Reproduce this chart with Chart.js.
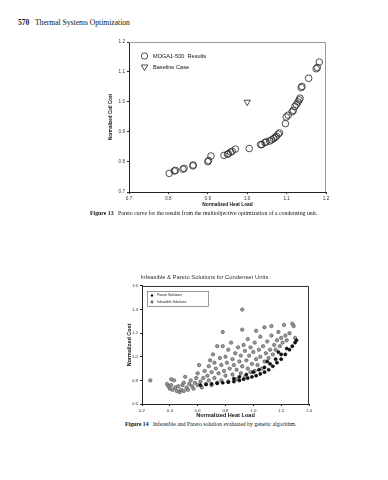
<!DOCTYPE html>
<html>
<head>
<meta charset="utf-8">
<script src="https://cdn.jsdelivr.net/npm/chart.js@4.4.0/dist/chart.umd.min.js"></script>
<style>
  body { margin: 0; width: 388px; height: 480px; background: #fff; position: relative; overflow: hidden; font-family: "Liberation Serif", serif; color: #111; }
  .txt { position: absolute; white-space: nowrap; line-height: 1; }
  canvas { position: absolute; }
</style>
</head>
<body>
<div class="txt" style="left:18px;top:19px;font-size:7.6px"><b>570</b>&nbsp;&nbsp; Thermal Systems Optimization</div>
<canvas id="paretoChart" width="245" height="178" style="left:90px;top:34px;width:245px;height:178px"></canvas>
<div class="txt" style="left:90px;top:211px;font-size:5.8px"><b>Figure 13</b>&nbsp;&nbsp; Pareto curve for the results from the multiobjective optimization of a condensing unit.</div>
<canvas id="solutionsChart" width="230" height="152" style="left:100px;top:268px;width:230px;height:152px"></canvas>
<div class="txt" style="left:125px;top:422px;font-size:5.8px"><b>Figure 14</b>&nbsp;&nbsp; Infeasible and Pareto solution evaluated by genetic algorithm.</div>

<script>
// Figure 13 - ket qua MOGA1-500 (heat load, coil cost)
const mogaPoints = [
  [0.802, 0.762], [0.815, 0.770], [0.818, 0.772], [0.837, 0.776], [0.840, 0.779],
  [0.862, 0.787], [0.863, 0.790], [0.900, 0.801], [0.902, 0.805], [0.908, 0.820],
  [0.941, 0.822], [0.950, 0.826], [0.952, 0.828], [0.958, 0.833], [0.962, 0.836],
  [0.970, 0.843], [1.005, 0.845], [1.034, 0.858], [1.037, 0.858], [1.045, 0.865],
  [1.048, 0.867], [1.057, 0.870], [1.062, 0.874], [1.067, 0.878], [1.071, 0.882],
  [1.074, 0.886], [1.079, 0.893], [1.082, 0.897], [1.097, 0.928], [1.099, 0.950],
  [1.104, 0.956], [1.114, 0.967], [1.117, 0.972], [1.121, 0.985], [1.125, 0.992],
  [1.129, 1.000], [1.132, 1.007], [1.134, 1.013], [1.137, 1.048], [1.139, 1.052],
  [1.156, 1.079], [1.175, 1.111], [1.178, 1.115], [1.183, 1.133]
];
const baselinePoint = [[1.0, 1.0]];
const topHeatTicks = [0.7, 0.8, 0.9, 1.0, 1.1, 1.2];
const topCostTicks = [0.7, 0.8, 0.9, 1.0, 1.1, 1.2];

// Figure 14 - nghiem Pareto va nghiem khong kha thi
const paretoPoints = [
  [0.62, 0.760], [0.66, 0.765], [0.70, 0.770], [0.74, 0.775], [0.78, 0.780],
  [0.82, 0.785], [0.86, 0.790], [0.90, 0.800], [0.93, 0.810], [0.96, 0.820],
  [0.99, 0.830], [1.02, 0.840], [1.05, 0.855], [1.08, 0.870], [1.11, 0.890],
  [1.14, 0.920], [1.17, 0.950], [1.20, 0.980], [1.23, 1.020], [1.26, 1.060],
  [1.28, 1.090], [1.30, 1.120], [1.31, 1.140], [1.00, 0.870], [1.04, 0.890],
  [1.08, 0.910], [1.12, 0.940], [1.16, 0.980], [1.20, 1.020], [1.24, 1.070],
  [0.95, 0.850], [0.90, 0.830], [0.86, 0.815], [1.10, 0.960], [1.18, 1.040]
];
const infeasiblePoints = [
  [0.26, 0.80], [0.38, 0.77], [0.39, 0.75], [0.40, 0.73], [0.41, 0.76], [0.41, 0.81],
  [0.43, 0.80], [0.42, 0.72], [0.44, 0.74], [0.45, 0.71], [0.46, 0.75], [0.47, 0.70],
  [0.48, 0.72], [0.49, 0.76], [0.50, 0.71], [0.50, 0.78], [0.51, 0.83], [0.52, 0.74],
  [0.53, 0.72], [0.54, 0.77], [0.55, 0.80], [0.56, 0.75], [0.57, 0.73], [0.58, 0.78],
  [0.59, 0.82], [0.60, 0.76], [0.60, 0.86], [0.61, 0.93], [0.62, 0.79], [0.63, 0.74],
  [0.64, 0.82], [0.65, 0.88], [0.66, 0.77], [0.67, 0.84], [0.68, 0.80], [0.68, 0.92],
  [0.69, 0.97], [0.70, 0.76], [0.70, 0.87], [0.71, 1.02], [0.72, 0.82], [0.72, 0.95],
  [0.73, 0.90], [0.74, 0.78], [0.74, 1.09], [0.75, 0.86], [0.76, 0.99], [0.77, 0.80],
  [0.77, 0.93], [0.78, 1.21], [0.78, 1.09], [0.79, 0.88], [0.80, 0.84], [0.80, 1.00],
  [0.81, 0.95], [0.82, 0.79], [0.82, 1.06], [0.83, 0.90], [0.84, 1.12], [0.85, 0.85],
  [0.85, 0.98], [0.86, 0.93], [0.87, 1.03], [0.88, 0.81], [0.88, 0.89], [0.89, 1.08],
  [0.90, 0.96], [0.91, 0.86], [0.91, 1.01], [0.92, 1.40], [0.92, 1.23], [0.92, 0.92],
  [0.93, 1.10], [0.94, 0.83], [0.94, 1.05], [0.95, 0.97], [0.96, 0.90], [0.96, 1.15],
  [0.97, 1.01], [0.98, 0.87], [0.98, 1.08], [0.99, 0.94], [1.00, 1.04], [1.01, 0.88],
  [1.01, 1.12], [1.02, 0.98], [1.02, 1.22], [1.03, 0.93], [1.04, 1.06], [1.05, 1.00],
  [1.05, 1.17], [1.06, 0.90], [1.07, 1.09], [1.08, 0.96], [1.08, 1.25], [1.09, 1.03],
  [1.10, 1.13], [1.11, 0.99], [1.12, 1.06], [1.13, 1.26], [1.13, 1.18], [1.14, 1.02],
  [1.15, 1.10], [1.16, 1.06], [1.17, 1.14], [1.18, 1.21], [1.19, 1.09], [1.20, 1.16],
  [1.21, 1.12], [1.22, 1.27], [1.23, 1.18], [1.24, 1.14], [1.26, 1.20], [1.28, 1.28],
  [1.29, 1.26], [1.30, 1.16]
];
const botHeatTicks = [0.2, 0.4, 0.6, 0.8, 1.0, 1.2, 1.4];
const botCostTicks = [0.6, 0.8, 1.0, 1.2, 1.4, 1.6];

const sans = "'Liberation Sans', Arial, sans-serif";
const toXY = arr => arr.map(p => ({ x: p[0], y: p[1] }));

// ve khung va chu giai (legend) ben trong vung ve
function framePlugin(topRightColor, legend) {
  return {
    id: "frame",
    afterDraw(chart) {
      const { ctx, chartArea: a } = chart;
      ctx.save();
      ctx.strokeStyle = topRightColor;
      ctx.lineWidth = 1;
      ctx.beginPath();
      ctx.moveTo(a.left, a.top + 0.5);
      ctx.lineTo(a.right - 0.5, a.top + 0.5);
      ctx.lineTo(a.right - 0.5, a.bottom);
      ctx.stroke();
      legend(ctx, a);
      ctx.restore();
    },
  };
}

function axisScale(ticksArr, fontSize, titleText, titleSize, titlePad, fitSize, horizontal) {
  return {
    type: "linear",
    min: ticksArr[0],
    max: ticksArr[ticksArr.length - 1],
    afterBuildTicks: s => { s.ticks = ticksArr.map(v => ({ value: v })); },
    afterFit: s => { if (horizontal) s.height = fitSize; else s.width = fitSize; },
    ticks: {
      callback: v => v.toFixed(1),
      font: { family: sans, size: fontSize },
      color: "#333",
      padding: 2,
    },
    grid: { drawOnChartArea: false, tickLength: 2, color: "#222" },
    border: { color: "#222", width: 1 },
    title: {
      display: true,
      text: titleText,
      color: "#111",
      font: { family: sans, size: titleSize, weight: "bold" },
      padding: titlePad,
    },
  };
}

// Bieu do 1: duong cong Pareto
function initParetoChart() {
  const ctx = document.getElementById("paretoChart").getContext("2d");
  new Chart(ctx, {
    type: "scatter",
    data: {
      datasets: [
        {
          label: "MOGA1-500 Results",
          data: toXY(mogaPoints),
          pointStyle: "circle",
          pointRadius: 3.3,
          borderWidth: 0.8,
          borderColor: "#222",
          backgroundColor: "rgba(255,255,255,0)",
        },
        {
          label: "Baseline Case",
          data: toXY(baselinePoint),
          pointStyle: "triangle",
          rotation: 180,
          pointRadius: 3.6,
          borderWidth: 0.8,
          borderColor: "#222",
          backgroundColor: "rgba(255,255,255,0)",
        },
      ],
    },
    options: {
      responsive: false,
      animation: false,
      events: [],
      layout: { padding: { top: 8, right: 9, left: 0, bottom: 0 } },
      plugins: { legend: { display: false }, tooltip: { enabled: false } },
      scales: {
        x: axisScale(topHeatTicks, 4.6, "Normalized Heat Load", 4.8, { top: 0, bottom: 4 }, 20, true),
        y: axisScale(topCostTicks, 4.6, "Normalized Coil Cost", 4.6, { top: 18, bottom: 0 }, 39, false),
      },
    },
    plugins: [
      framePlugin("#9a9a9a", (c, a) => {
        c.strokeStyle = "#222";
        c.lineWidth = 0.8;
        const lx = a.left + 15.5;
        c.beginPath();
        c.arc(lx, a.top + 14, 3.2, 0, Math.PI * 2);
        c.stroke();
        c.beginPath();
        c.moveTo(lx - 3.3, a.top + 23);
        c.lineTo(lx + 3.3, a.top + 23);
        c.lineTo(lx, a.top + 28.5);
        c.closePath();
        c.stroke();
        c.fillStyle = "#111";
        c.font = "5.6px " + sans;
        c.textBaseline = "middle";
        c.fillText("MOGA1-500  Results", a.left + 24, a.top + 14);
        c.fillText("Baseline Case", a.left + 24, a.top + 25);
      }),
    ],
  });
}

// Bieu do 2: nghiem khong kha thi va nghiem Pareto
function initSolutionsChart() {
  const ctx = document.getElementById("solutionsChart").getContext("2d");
  new Chart(ctx, {
    type: "scatter",
    data: {
      datasets: [
        {
          label: "Pareto Solutions",
          data: toXY(paretoPoints),
          pointRadius: 1.6,
          borderWidth: 0.5,
          borderColor: "#000",
          backgroundColor: "#111",
        },
        {
          label: "Infeasible Solutions",
          data: toXY(infeasiblePoints),
          pointRadius: 1.7,
          borderWidth: 0.6,
          borderColor: "#444",
          backgroundColor: "#9c9c9c",
        },
      ],
    },
    options: {
      responsive: false,
      animation: false,
      events: [],
      layout: { padding: { top: 0, right: 21, left: 0, bottom: 0 } },
      plugins: {
        legend: { display: false },
        tooltip: { enabled: false },
        title: {
          display: true,
          text: "Infeasible & Pareto Solutions for Condenser Units",
          color: "#333",
          font: { family: sans, size: 5.8, weight: "normal" },
          padding: { top: 6, bottom: 5 },
        },
      },
      scales: {
        x: axisScale(botHeatTicks, 4.4, "Normalized Heat Load", 5.6, { top: 0, bottom: 1.6 }, 16, true),
        y: axisScale(botCostTicks, 4.4, "Normalized Cost", 5.4, { top: 26, bottom: 0 }, 42, false),
      },
    },
    plugins: [
      framePlugin("#333", (c, a) => {
        c.strokeStyle = "#555";
        c.lineWidth = 0.6;
        c.strokeRect(a.left + 5.5, a.top + 5.5, 61, 15);
        c.fillStyle = "#111";
        c.beginPath();
        c.arc(a.left + 10, a.top + 9.5, 1.2, 0, Math.PI * 2);
        c.fill();
        c.fillStyle = "#9c9c9c";
        c.strokeStyle = "#444";
        c.beginPath();
        c.arc(a.left + 10, a.top + 16, 1.2, 0, Math.PI * 2);
        c.fill();
        c.stroke();
        c.fillStyle = "#222";
        c.font = "3.4px " + sans;
        c.textBaseline = "middle";
        c.fillText("Pareto Solutions", a.left + 15, a.top + 9.5);
        c.fillText("Infeasible Solutions", a.left + 15, a.top + 16);
      }),
    ],
  });
}

initParetoChart();
initSolutionsChart();
</script>
</body>
</html>
